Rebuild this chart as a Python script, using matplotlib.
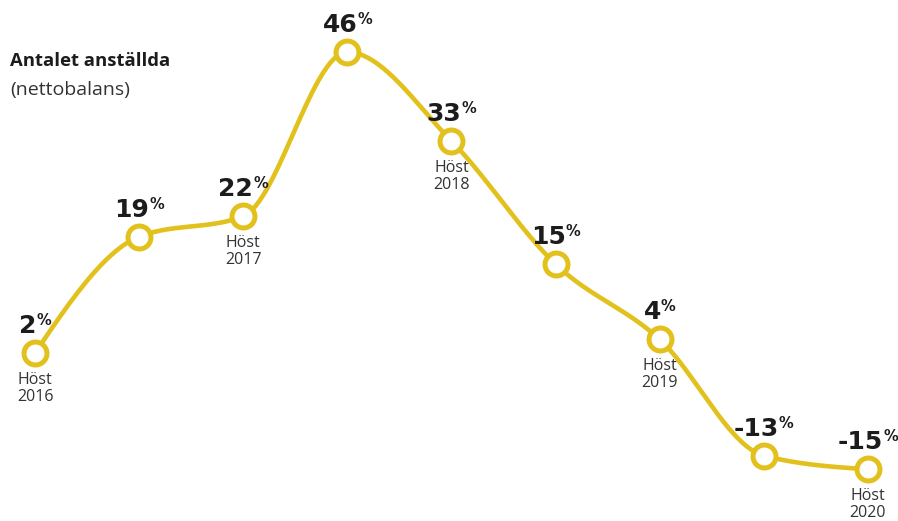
import numpy as np
import matplotlib
matplotlib.use("Agg")
import matplotlib.pyplot as plt

values = [2, 19, 22, 46, 33, 15, 4, -13, -15]
value_labels = ["2", "19", "22", "46", "33", "15", "4", "-13", "-15"]
season_labels = ["Höst\n2016", "", "Höst\n2017", "", "Höst\n2018", "", "Höst\n2019", "", "Höst\n2020"]
title = "Antalet anställda"
subtitle = "(nettobalans)"

YELLOW = "#E2C11D"
DARK = "#1c1c1c"
FONT = "Open Sans"
NUMFONT = "DejaVu Sans"


def monotone_x(x, y, n=60):
    x = np.asarray(x, float)
    y = np.asarray(y, float)
    h = np.diff(x)
    d = np.diff(y) / h
    m = np.zeros_like(y)
    for i in range(1, len(y) - 1):
        s0, s1 = d[i - 1], d[i]
        p = (s0 * h[i] + s1 * h[i - 1]) / (h[i - 1] + h[i])
        m[i] = (np.sign(s0) + np.sign(s1)) * min(abs(s0), abs(s1), 0.5 * abs(p))
    m[0] = (3 * d[0] - m[1]) / 2
    m[-1] = (3 * d[-1] - m[-2]) / 2
    xs, ys = [], []
    for i in range(len(y) - 1):
        t = np.linspace(0, 1, n)
        h00 = 2 * t**3 - 3 * t**2 + 1
        h10 = t**3 - 2 * t**2 + t
        h01 = -2 * t**3 + 3 * t**2
        h11 = t**3 - t**2
        xs.append(x[i] + t * h[i])
        ys.append(h00 * y[i] + h10 * h[i] * m[i] + h01 * y[i + 1] + h11 * h[i] * m[i + 1])
    return np.concatenate(xs), np.concatenate(ys)


fig = plt.figure(figsize=(8.98, 5.21), dpi=100)
ax = fig.add_axes([0, 0, 1, 1])
ax.set_axis_off()

xi = np.arange(len(values))
xpx0, xstep = 35.0, 104.1
ax.set_xlim(-xpx0 / xstep, (898 - xpx0) / xstep)
ppu = 6.84
ax.set_ylim(2 - (521 - 353) / ppu, 2 + 353 / ppu)

sx, sy = monotone_x(xi, values)
ax.plot(sx, sy, color=YELLOW, lw=3.3, solid_capstyle="round", zorder=2)
ax.plot(xi, values, "o", ms=16.5, mfc="white", mec=YELLOW, mew=3.6, zorder=3)

fig.canvas.draw()
r = fig.canvas.get_renderer()

for i, (v, lab) in enumerate(zip(values, value_labels)):
    t1 = ax.annotate(lab, (i, v), xytext=(0, 20), textcoords="offset pixels",
                     ha="left", va="baseline", fontsize=18, fontweight="bold",
                     color=DARK, family=NUMFONT, zorder=4)
    t2 = ax.annotate("%", (i, v), xytext=(0, 28), textcoords="offset pixels",
                     ha="left", va="baseline", fontsize=10.5, fontweight="bold",
                     color=DARK, family=NUMFONT, zorder=4)
    w1 = t1.get_window_extent(r).width
    w2 = t2.get_window_extent(r).width
    gap = 0.0
    start = -(w1 + w2 + gap) / 2
    t1.set_position((start, 20))
    t2.set_position((start + w1 + gap, 28))
    if season_labels[i]:
        ax.annotate(season_labels[i], (i, v), xytext=(0, -19), textcoords="offset pixels",
                    ha="center", va="top", fontsize=11.5, color="#333333",
                    family=FONT, linespacing=1.05, zorder=4)

fig.text(10 / 898, 1 - 66 / 521, title, fontsize=13.3, fontweight="bold",
         color=DARK, family=FONT, va="baseline", ha="left")
fig.text(10 / 898, 1 - 95 / 521, subtitle, fontsize=14, color="#333333",
         family=FONT, va="baseline", ha="left")

fig.savefig("out.png", dpi=100, facecolor="white")
